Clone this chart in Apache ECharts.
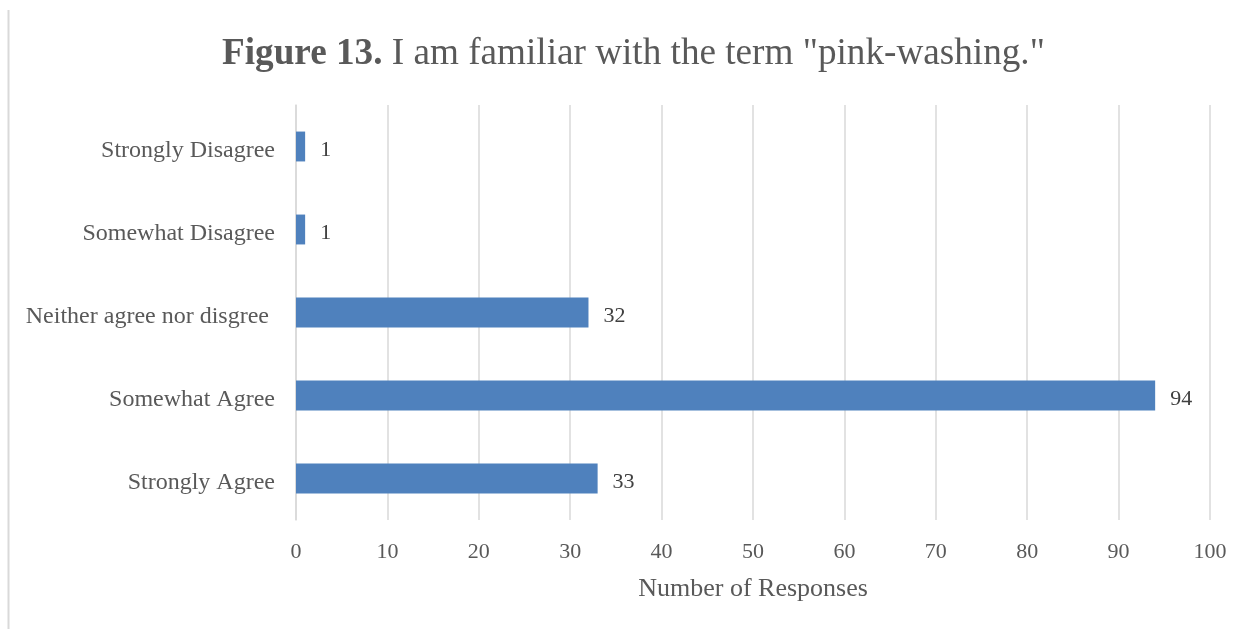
<!DOCTYPE html>
<html>
<head>
<meta charset="utf-8">
<script src="https://cdn.jsdelivr.net/npm/echarts@6/dist/echarts.min.js"></script>
<style>
  html, body { margin: 0; padding: 0; background: #fff; }
  #chart { width: 1246px; height: 629px; }
</style>
</head>
<body>
<div id="chart"></div>
<script>
// Survey responses, listed bottom to top as they appear on the category axis
const categories = ['Strongly Agree', 'Somewhat Agree', 'Neither agree nor disgree ', 'Somewhat Disagree', 'Strongly Disagree'];
const responses = [33, 94, 32, 1, 1];
const xTicks = [0, 10, 20, 30, 40, 50, 60, 70, 80, 90, 100];

const textColor = '#595959';
const serif = '"Liberation Serif", "Times New Roman", serif';

const chart = echarts.init(document.getElementById('chart'));
chart.setOption({
  backgroundColor: '#fff',
  animation: false,
  title: {
    text: '{b|Figure 13.}{n| I am familiar with the term "pink-washing."}',
    left: 222,
    top: 36,
    padding: 0,
    textStyle: {
      fontWeight: 'normal',
      rich: {
        b: { fontFamily: serif, fontSize: 37.2, fontWeight: 'bold', color: textColor },
        n: { fontFamily: serif, fontSize: 37.2, fontWeight: 'normal', color: textColor }
      }
    }
  },
  graphic: [{
    type: 'line',
    shape: { x1: 8.5, y1: 10, x2: 8.5, y2: 629 },
    style: { stroke: '#d9d9d9', lineWidth: 2 }
  }],
  grid: { left: 296, right: 36, top: 105, bottom: 109 },
  xAxis: {
    type: 'value',
    min: xTicks[0],
    max: xTicks[xTicks.length - 1],
    interval: 10,
    name: 'Number of Responses',
    nameLocation: 'middle',
    nameGap: 56,
    nameTextStyle: { fontFamily: serif, fontSize: 26, color: textColor },
    axisLine: { show: false },
    axisTick: { show: false },
    axisLabel: { fontFamily: serif, fontSize: 22, color: textColor, margin: 21 },
    splitLine: { show: true, lineStyle: { color: '#d9d9d9', width: 1.5 } }
  },
  yAxis: {
    type: 'category',
    data: categories,
    axisLine: { show: true, lineStyle: { color: '#d9d9d9', width: 1.5 } },
    axisTick: { show: false },
    axisLabel: {
      margin: 21,
      formatter: '{c|{value}}',
      rich: { c: { fontFamily: serif, fontSize: 24, color: textColor, padding: [8, 0, 0, 0] } }
    }
  },
  series: [{
    type: 'bar',
    data: responses,
    barWidth: '36%',
    itemStyle: { color: '#4f81bd' },
    label: {
      show: true,
      position: 'right',
      distance: 15,
      formatter: '{v|{c}}',
      rich: { v: { fontFamily: serif, fontSize: 22, color: '#404040', padding: [8, 0, 0, 0] } }
    }
  }]
});
</script>
</body>
</html>
